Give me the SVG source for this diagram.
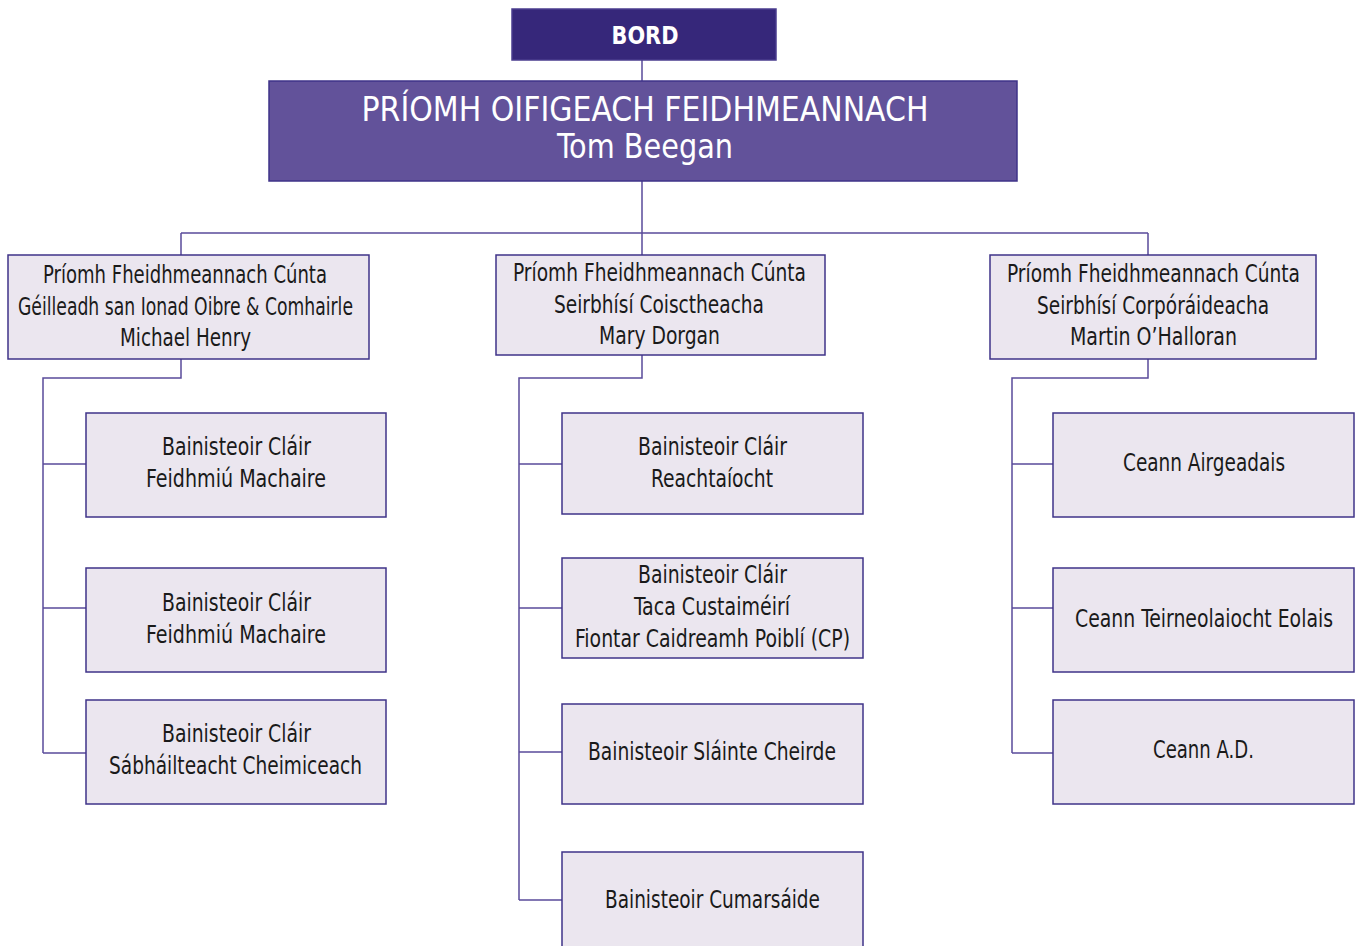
<svg xmlns="http://www.w3.org/2000/svg" width="1360" height="946" viewBox="0 0 1360 946">
<style>
.bg{fill:#ffffff}
.box{fill:#ebe6ef;stroke:#3f3389;stroke-width:1.5}
.bord{fill:#36277a;stroke:#4a3d8e;stroke-width:1.5}
.ceo{fill:#62529a;stroke:#3f3389;stroke-width:1.5}
.conn{fill:none;stroke:#5a4b9b;stroke-width:1.5}
text{font-family:"DejaVu Sans Condensed","DejaVu Sans","Liberation Sans",sans-serif;text-anchor:middle}
.t{font-size:24px;fill:#1a1a1a}
.w{fill:#ffffff}
</style>
<rect class="bg" x="0" y="0" width="1360" height="946"/>
<g id="connectors">
<path class="conn" d="M642 60V81M642 181V255M181 233H1148M181 233V255M1148 233V255"/>
<path class="conn" d="M181 359V378H43V753M43 464H86M43 608H86M43 753H86"/>
<path class="conn" d="M642 355V378H519V900M519 464H562M519 608H562M519 752H562M519 900H562"/>
<path class="conn" d="M1148 359V378H1012V753M1012 464H1053M1012 608H1053M1012 753H1053"/>
</g>
<g id="bord">
<rect class="bord" x="512" y="9" width="264" height="51"/>
<text class="w" x="645" y="44" font-size="25" font-weight="bold" textLength="67" lengthAdjust="spacingAndGlyphs">BORD</text>
</g>
<g id="ceo">
<rect class="ceo" x="269" y="81" width="748" height="100"/>
<text class="w" x="645" y="121" font-size="33" textLength="567" lengthAdjust="spacingAndGlyphs">PRÍOMH OIFIGEACH FEIDHMEANNACH</text>
<text class="w" x="645" y="158" font-size="33" textLength="176" lengthAdjust="spacingAndGlyphs">Tom Beegan</text>
</g>
<g id="l2-left">
<rect class="box" x="8" y="255" width="361" height="104"/>
<text class="t" x="185" y="283" textLength="284" lengthAdjust="spacingAndGlyphs">Príomh Fheidhmeannach Cúnta</text>
<text class="t" x="185.5" y="315" textLength="335" lengthAdjust="spacingAndGlyphs">Géilleadh san Ionad Oibre &amp; Comhairle</text>
<text class="t" x="185.5" y="346" textLength="131" lengthAdjust="spacingAndGlyphs">Michael Henry</text>
</g>
<g id="l2-mid">
<rect class="box" x="496" y="255" width="329" height="100"/>
<text class="t" x="659.5" y="281" textLength="293" lengthAdjust="spacingAndGlyphs">Príomh Fheidhmeannach Cúnta</text>
<text class="t" x="659" y="313" textLength="210" lengthAdjust="spacingAndGlyphs">Seirbhísí Coisctheacha</text>
<text class="t" x="659.5" y="344" textLength="121" lengthAdjust="spacingAndGlyphs">Mary Dorgan</text>
</g>
<g id="l2-right">
<rect class="box" x="990" y="255" width="326" height="104"/>
<text class="t" x="1153.5" y="282" textLength="293" lengthAdjust="spacingAndGlyphs">Príomh Fheidhmeannach Cúnta</text>
<text class="t" x="1153" y="314" textLength="232" lengthAdjust="spacingAndGlyphs">Seirbhísí Corpóráideacha</text>
<text class="t" x="1153.5" y="345" textLength="167" lengthAdjust="spacingAndGlyphs">Martin O’Halloran</text>
</g>
<g id="left-1">
<rect class="box" x="86" y="413" width="300" height="104"/>
<text class="t" x="236.5" y="455" textLength="149" lengthAdjust="spacingAndGlyphs">Bainisteoir Cláir</text>
<text class="t" x="236" y="487" textLength="180" lengthAdjust="spacingAndGlyphs">Feidhmiú Machaire</text>
</g>
<g id="left-2">
<rect class="box" x="86" y="568" width="300" height="104"/>
<text class="t" x="236.5" y="611" textLength="149" lengthAdjust="spacingAndGlyphs">Bainisteoir Cláir</text>
<text class="t" x="236" y="643" textLength="180" lengthAdjust="spacingAndGlyphs">Feidhmiú Machaire</text>
</g>
<g id="left-3">
<rect class="box" x="86" y="700" width="300" height="104"/>
<text class="t" x="236.5" y="742" textLength="149" lengthAdjust="spacingAndGlyphs">Bainisteoir Cláir</text>
<text class="t" x="235.5" y="774" textLength="253" lengthAdjust="spacingAndGlyphs">Sábháilteacht Cheimiceach</text>
</g>
<g id="mid-1">
<rect class="box" x="562" y="413" width="301" height="101"/>
<text class="t" x="712.5" y="455" textLength="149" lengthAdjust="spacingAndGlyphs">Bainisteoir Cláir</text>
<text class="t" x="712" y="487" textLength="122" lengthAdjust="spacingAndGlyphs">Reachtaíocht</text>
</g>
<g id="mid-2">
<rect class="box" x="562" y="558" width="301" height="100"/>
<text class="t" x="712.5" y="583" textLength="149" lengthAdjust="spacingAndGlyphs">Bainisteoir Cláir</text>
<text class="t" x="712" y="615" textLength="156" lengthAdjust="spacingAndGlyphs">Taca Custaiméirí</text>
<text class="t" x="712.5" y="647" textLength="275" lengthAdjust="spacingAndGlyphs">Fiontar Caidreamh Poiblí (CP)</text>
</g>
<g id="mid-3">
<rect class="box" x="562" y="704" width="301" height="100"/>
<text class="t" x="712" y="760" textLength="248" lengthAdjust="spacingAndGlyphs">Bainisteoir Sláinte Cheirde</text>
</g>
<g id="mid-4">
<rect class="box" x="562" y="852" width="301" height="100"/>
<text class="t" x="712.5" y="908" textLength="215" lengthAdjust="spacingAndGlyphs">Bainisteoir Cumarsáide</text>
</g>
<g id="right-1">
<rect class="box" x="1053" y="413" width="301" height="104"/>
<text class="t" x="1204" y="471" textLength="162" lengthAdjust="spacingAndGlyphs">Ceann Airgeadais</text>
</g>
<g id="right-2">
<rect class="box" x="1053" y="568" width="301" height="104"/>
<text class="t" x="1204" y="627" textLength="258" lengthAdjust="spacingAndGlyphs">Ceann Teirneolaiocht Eolais</text>
</g>
<g id="right-3">
<rect class="box" x="1053" y="700" width="301" height="104"/>
<text class="t" x="1203.5" y="758" textLength="101" lengthAdjust="spacingAndGlyphs">Ceann A.D.</text>
</g>
</svg>
